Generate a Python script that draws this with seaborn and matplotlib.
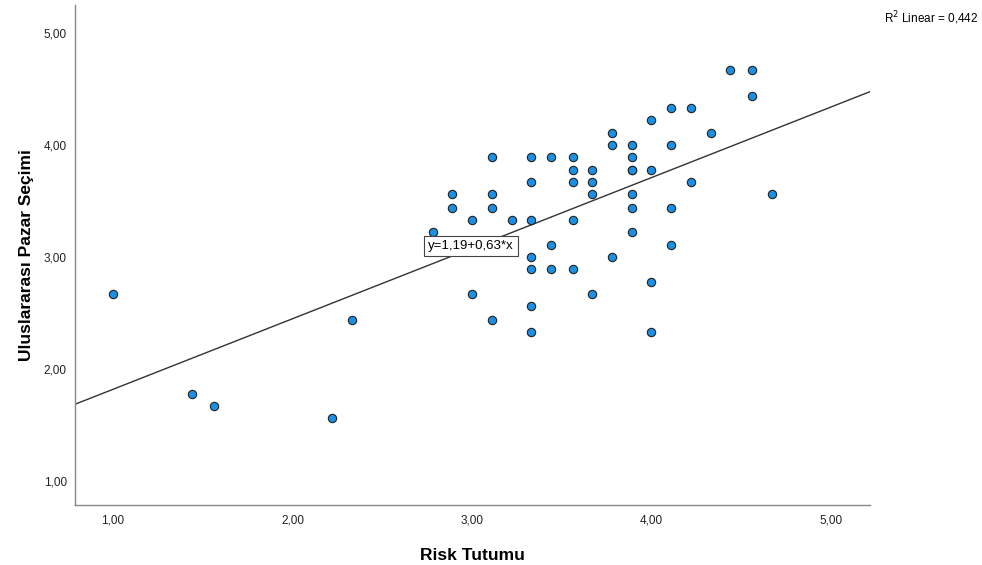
import numpy as np
import pandas as pd
import matplotlib
matplotlib.use("Agg")
import matplotlib.pyplot as plt
import seaborn as sns

# Risk Tutumu (x) and Uluslararası Pazar Seçimi (y) values
risk = [1.00, 1.44, 1.56, 2.22, 2.33, 2.78, 2.89, 2.89, 3.00, 3.00,
        3.11, 3.11, 3.11, 3.11, 3.22, 3.33, 3.33, 3.33, 3.33, 3.33,
        3.33, 3.33, 3.44, 3.44, 3.44, 3.56, 3.56, 3.56, 3.56, 3.56,
        3.67, 3.67, 3.67, 3.67, 3.78, 3.78, 3.78, 3.89, 3.89, 3.89,
        3.89, 3.89, 3.89, 3.89, 4.00, 4.00, 4.00, 4.00, 4.11, 4.11,
        4.11, 4.11, 4.22, 4.22, 4.33, 4.44, 4.56, 4.56, 4.67]
pazar = [2.67, 1.78, 1.67, 1.56, 2.44, 3.22, 3.56, 3.44, 3.33, 2.67,
         3.89, 3.56, 3.44, 2.44, 3.33, 3.89, 3.67, 3.33, 3.00, 2.89,
         2.56, 2.33, 3.89, 3.11, 2.89, 3.89, 3.78, 3.67, 3.33, 2.89,
         3.78, 3.67, 3.56, 2.67, 4.11, 4.00, 3.00, 4.00, 3.89, 3.78,
         3.78, 3.56, 3.44, 3.22, 4.22, 3.78, 2.78, 2.33, 4.33, 4.00,
         3.44, 3.11, 4.33, 3.67, 4.11, 4.67, 4.67, 4.44, 3.56]

# fit line as reported on the chart
intercept = 1.19
slope = 0.63
r2 = 0.442

x_ticks = [1, 2, 3, 4, 5]
y_ticks = [1, 2, 3, 4, 5]

df = pd.DataFrame({"Risk Tutumu": risk, "Uluslararası Pazar Seçimi": pazar})

sns.set_style("white")
plt.rcParams["font.family"] = ["Liberation Sans", "DejaVu Sans"]
plt.rcParams["text.color"] = "black"
plt.rcParams["axes.labelcolor"] = "black"

fig = plt.figure(figsize=(9.82, 5.65), dpi=100)
ax = fig.add_axes([0.0764, 0.106, 0.81, 0.885])

sns.scatterplot(data=df, x="Risk Tutumu", y="Uluslararası Pazar Seçimi", ax=ax,
                s=36, color="#1a8fe3", edgecolor="#222222", linewidth=0.8,
                zorder=3)
ax.axline((0, intercept), slope=slope, color="#333333", linewidth=1.0, zorder=2)

ax.set_xlim(0.788, 5.22)
ax.set_ylim(0.786, 5.25)

ax.set_xticks(x_ticks)
ax.set_yticks(y_ticks)
ax.set_xticklabels([f"{v:.2f}".replace(".", ",") for v in x_ticks], fontsize=8.5)
ax.set_yticklabels([f"{v:.2f}".replace(".", ",") for v in y_ticks], fontsize=8.5)
ax.tick_params(length=0, colors="#222222")
ax.tick_params(axis="x", pad=7)
ax.tick_params(axis="y", pad=6)

ax.set_xlabel("Risk Tutumu", fontsize=12.5, fontweight="bold", labelpad=15)
ax.set_ylabel("Uluslararası Pazar Seçimi", fontsize=12.5, fontweight="bold", labelpad=7)

for side in ["top", "right"]:
    ax.spines[side].set_visible(False)
for side in ["left", "bottom"]:
    ax.spines[side].set_color("#888888")
    ax.spines[side].set_linewidth(1.0)

eq = f"y={intercept:.2f}+{slope:.2f}*x".replace(".", ",")
ax.text(2.755, 3.10, eq, fontsize=9.5, va="center", ha="left",
        bbox=dict(boxstyle="square,pad=0.3", facecolor="white", edgecolor="#444444", linewidth=0.8),
        zorder=4)

fig.text(0.996, 0.968, f"R$^2$ Linear = {r2:.3f}".replace(".", ","), fontsize=8.5,
         ha="right", va="center")

fig.savefig("out.png", dpi=100)
